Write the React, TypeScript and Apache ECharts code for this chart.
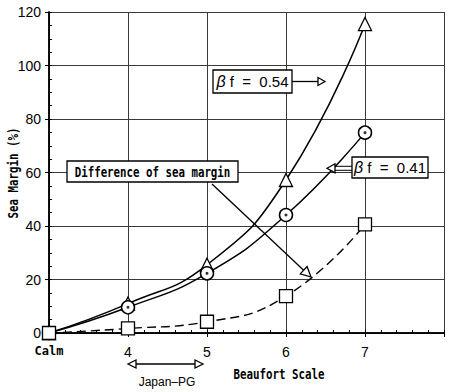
import { useEffect, useRef } from "react";
import * as echarts from "echarts";

// Beaufort scale positions (3 = Calm)
const beaufort = [3, 4, 5, 6, 7];
const xTickLabels: Record<number, string> = { 3: "Calm", 4: "4", 5: "5", 6: "6", 7: "7" };
// Sea margin (%)
const marginBf054 = [0, 11, 25.5, 57.2, 115.5];
const marginBf041 = [0, 9.6, 22.3, 44.1, 74.9];
const seaMarginDiff = [0, 1.7, 4.2, 13.8, 40.6];

const NARROW = "'Liberation Sans Narrow', 'Arial Narrow', 'Liberation Sans', sans-serif";
const SANS = "'Liberation Sans', Arial, sans-serif";
const MONO = "'DejaVu Sans Mono', monospace";

const pairs = (ys: number[]) => beaufort.map((x, i) => [x, ys[i]]);

export default function App() {
  const ref = useRef<HTMLDivElement>(null);
  useEffect(() => {
    if (!ref.current) return;
    const chart = echarts.init(ref.current, null, { renderer: "svg" });
    const black = "#000";
    const grid = "#3a3a3a";
    const openTri = (pts: number[][]) => ({
      type: "polygon",
      shape: { points: pts },
      style: { fill: "#fff", stroke: black, lineWidth: 1.3 },
      z: 100,
    });
    const line = (x1: number, y1: number, x2: number, y2: number, w = 1.3) => ({
      type: "line",
      shape: { x1, y1, x2, y2 },
      style: { stroke: black, lineWidth: w },
      z: 99,
    });
    const box = (x: number, y: number, w: number, h: number) => ({
      type: "rect",
      shape: { x, y, width: w, height: h },
      style: { fill: "#fff", stroke: black, lineWidth: 1.3 },
      z: 99,
    });
    const monoText = (text: string, x: number, y: number, size: number, sx: number, rotation = 0) => ({
      type: "text",
      x,
      y,
      rotation,
      scaleX: sx,
      z: 101,
      style: {
        text,
        fontFamily: MONO,
        fontWeight: "bold",
        fontSize: size,
        fill: black,
        align: "center",
        verticalAlign: "middle",
      },
    });
    const betaText = (val: string, x: number, y: number) => ({
      type: "text",
      x,
      y,
      z: 101,
      style: {
        text: "{b|β} f  =  " + val,
        fontFamily: SANS,
        fontSize: 15,
        fill: black,
        align: "center",
        verticalAlign: "middle",
        rich: { b: { fontFamily: SANS, fontSize: 16, fontStyle: "italic", fill: black } },
      },
    });

    // Difference pointer arrow geometry
    const tip = [311, 277];
    const d = [0.733, 0.681];
    const nrm = [-0.681, 0.733];
    const base = [tip[0] - 10 * d[0], tip[1] - 10 * d[1]];

    // secondary axes: outward major tick stubs only
    const stubAxis = (extra: any) => ({
      type: "value",
      axisLine: { show: true, onZero: false, lineStyle: { color: black, width: 1.5 } },
      axisTick: { show: true, inside: false, length: 4, lineStyle: { color: black, width: 1 } },
      axisLabel: { show: true, color: "rgba(0,0,0,0)", formatter: () => "" },
      splitLine: { show: false },
      ...extra,
    });

    const option: any = {
      animation: false,
      backgroundColor: "#fff",
      grid: { left: 49, right: 6, top: 12, bottom: 59 },
      xAxis: [
        {
          type: "value",
          min: 3,
          max: 8,
          interval: 1,
          axisLine: { onZero: false, lineStyle: { color: black, width: 1.5 } },
          axisTick: { show: true, inside: true, length: 3, lineStyle: { color: black, width: 1 } },
          minorTick: { show: true, splitNumber: 5, length: 3, lineStyle: { color: black, width: 1 } },
          splitLine: { show: true, lineStyle: { color: grid, width: 1 } },
          axisLabel: {
            margin: 12,
            color: black,
            fontFamily: NARROW,
            fontSize: 14,
            formatter: (v: number) => (v === 3 ? "{c|" + xTickLabels[3] + "}" : xTickLabels[v] ?? ""),
            rich: { c: { fontFamily: MONO, fontWeight: "bold", fontSize: 12, color: black } },
          },
        },
        stubAxis({ position: "bottom", min: 3, max: 8, interval: 1 }),
      ],
      yAxis: [
        {
          type: "value",
          min: 0,
          max: 120,
          interval: 20,
          axisLine: { show: true, onZero: false, lineStyle: { color: black, width: 1.5 } },
          axisTick: { show: true, inside: true, length: 3, lineStyle: { color: black, width: 1 } },
          minorTick: { show: true, splitNumber: 4, length: 3, lineStyle: { color: black, width: 1 } },
          splitLine: { show: true, lineStyle: { color: grid, width: 1 } },
          axisLabel: { margin: 8, color: black, fontFamily: NARROW, fontSize: 14 },
        },
        stubAxis({ position: "left", min: 0, max: 120, interval: 20 }),
      ],
      series: [
        {
          name: "βf = 0.54",
          type: "line",
          data: pairs(marginBf054),
          smooth: 0.5,
          symbol: "triangle",
          symbolSize: 13,
          itemStyle: { color: "#fff", borderColor: black, borderWidth: 1.3 },
          lineStyle: { color: black, width: 1.5 },
          z: 2,
        },
        {
          name: "βf = 0.41",
          type: "line",
          data: pairs(marginBf041),
          smooth: 0.5,
          symbol: "circle",
          symbolSize: 13,
          itemStyle: { color: "#fff", borderColor: black, borderWidth: 1.5 },
          lineStyle: { color: black, width: 1.5 },
          z: 3,
        },
        {
          name: "βf = 0.41 centre",
          type: "scatter",
          data: pairs(marginBf041),
          symbol: "circle",
          symbolSize: 3,
          itemStyle: { color: black },
          z: 4,
        },
        {
          name: "Difference of sea margin",
          type: "line",
          data: pairs(seaMarginDiff),
          smooth: 0.5,
          symbol: "rect",
          symbolSize: 13,
          itemStyle: { color: "#fff", borderColor: black, borderWidth: 1.3 },
          lineStyle: { color: black, width: 1.4, type: [9, 5] },
          z: 5,
        },
      ],
      graphic: [
        // βf = 0.54 label
        line(292, 81.5, 318, 81.5),
        openTri([[318, 77.5], [318, 85.5], [325, 81.5]]),
        box(213, 70, 79, 23),
        betaText("0.54", 252.5, 81.5),
        // βf = 0.41 label
        line(335, 166.3, 352, 166.3, 1),
        line(335, 170.3, 352, 170.3, 1),
        openTri([[327, 168.3], [335, 163.8], [335, 172.8]]),
        box(352, 157, 76, 21),
        betaText("0.41", 390, 167.5),
        // Difference of sea margin
        line(212, 184, base[0], base[1]),
        openTri([
          [tip[0], tip[1]],
          [base[0] + 5 * nrm[0], base[1] + 5 * nrm[1]],
          [base[0] - 5 * nrm[0], base[1] - 5 * nrm[1]],
        ]),
        box(67, 161, 171, 21),
        monoText("Difference of sea margin", 152.5, 172, 14, 0.77),
        // Japan-PG range arrow
        line(136, 364, 195, 364),
        openTri([[128, 364], [136, 360], [136, 368]]),
        openTri([[203, 364], [195, 360], [195, 368]]),
        {
          type: "text",
          x: 167,
          y: 382,
          style: {
            text: "Japan–PG",
            fontFamily: NARROW,
            fontSize: 12,
            fill: black,
            align: "center",
            verticalAlign: "middle",
          },
        },
        // Axis titles
        monoText("Beaufort Scale", 279, 374, 14, 0.77),
        monoText("Sea Margin (%)", 13, 173, 14, 0.77, Math.PI / 2),
      ],
    };
    chart.setOption(option);
    return () => chart.dispose();
  }, []);
  return (
    <div
      ref={ref}
      style={{ position: "fixed", left: 0, top: 0, width: 450, height: 392, background: "#fff" }}
    />
  );
}
